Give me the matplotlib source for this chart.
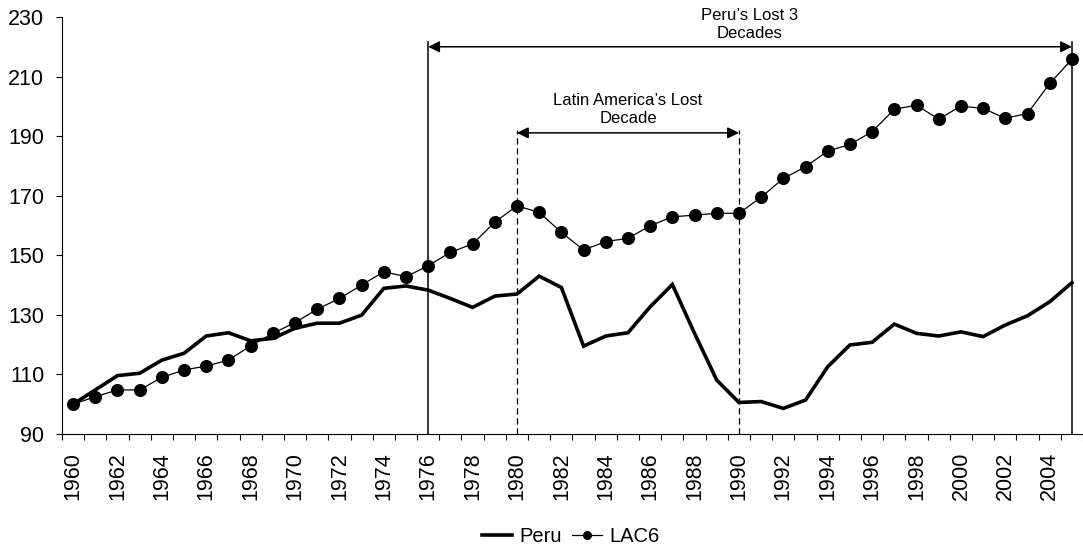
import numpy as np
import matplotlib
matplotlib.use('Agg')
import matplotlib.pyplot as plt
from matplotlib.ticker import FixedLocator

plt.rcParams['font.family'] = ['Liberation Sans', 'DejaVu Sans']

# Data (index, 1960 = 100)
years = list(range(1960, 2006))
peru = [100.0, 104.8, 109.6, 110.4, 114.8, 117.1, 122.9, 124.0, 121.3, 122.1,
        125.5, 127.2, 127.2, 129.9, 138.9, 139.7, 138.3, 135.5, 132.5, 136.3,
        137.0, 143.0, 139.2, 119.5, 122.9, 124.0, 132.7, 140.2, 123.8, 108.1,
        100.6, 100.9, 98.6, 101.4, 112.6, 119.9, 120.8, 126.9, 123.8, 122.9,
        124.3, 122.7, 126.6, 129.7, 134.4, 140.8]
lac6 = [100.0, 102.5, 104.8, 104.8, 109.0, 111.5, 112.8, 114.8, 119.6, 123.8,
        127.4, 131.9, 135.5, 140.0, 144.5, 142.8, 146.5, 151.0, 153.8, 161.1,
        166.6, 164.4, 157.7, 151.8, 154.6, 155.7, 159.9, 162.9, 163.5, 164.1,
        164.1, 169.5, 175.8, 179.7, 185.0, 187.2, 191.5, 199.0, 200.4, 195.7,
        200.1, 199.3, 196.0, 197.6, 207.7, 215.8]
yticks = [90, 110, 130, 150, 170, 190, 210, 230]

lost3 = (1976, 2005)
lost1 = (1980, 1990)
lost3_label = 'Peru\u2019s Lost 3\nDecades'
lost1_label = 'Latin America\u2019s Lost\nDecade'

x = np.arange(len(years))
def pos(yr):
    return years.index(yr)

fig = plt.figure(figsize=(10.83, 5.48), dpi=100)
ax = fig.add_axes([0.0572, 0.208, 0.9428, 0.761])

ax.plot(x, peru, color='black', lw=2.6, label='Peru', solid_joinstyle='miter')
ax.plot(x, lac6, color='black', lw=0.9, marker='o', ms=8.4, label='LAC6')

ax.set_xlim(-0.5, len(years) - 0.5)
ax.set_ylim(90, 230)
ax.yaxis.set_major_locator(FixedLocator(yticks))

ax.set_xticks(x[::2])
ax.set_xticklabels([str(y) for y in years[::2]], rotation=90)
ax.xaxis.set_minor_locator(FixedLocator(np.arange(-0.5, len(years), 1.0)))
ax.tick_params(axis='x', which='major', length=0, pad=13, labelsize=15.5)
ax.tick_params(axis='x', which='minor', length=4.3, width=0.8, direction='out')
ax.tick_params(axis='y', which='major', length=4.3, width=0.8, pad=8.5, labelsize=15.5)

for s in ['top', 'right']:
    ax.spines[s].set_visible(False)
for s in ['left', 'bottom']:
    ax.spines[s].set_linewidth(0.8)

# Peru's lost 3 decades
for yr in lost3:
    ax.plot([pos(yr), pos(yr)], [90, 221.7], color='black', lw=1.1, clip_on=False)
ax.annotate('', xy=(pos(lost3[0]), 220), xytext=(pos(lost3[1]), 220),
            arrowprops=dict(arrowstyle='<|-|>', color='black', lw=1.1,
                            mutation_scale=17, shrinkA=0, shrinkB=0),
            annotation_clip=False)
ax.text((pos(lost3[0]) + pos(lost3[1])) / 2, 227.4, lost3_label, ha='center', va='center',
        fontsize=12, linespacing=1.25, clip_on=False)

# Latin America's lost decade
for yr in lost1:
    ax.plot([pos(yr), pos(yr)], [90, 192], color='black', lw=0.9, ls=(0, (5, 3)))
ax.annotate('', xy=(pos(lost1[0]), 191.1), xytext=(pos(lost1[1]), 191.1),
            arrowprops=dict(arrowstyle='<|-|>', color='black', lw=1.1,
                            mutation_scale=17, shrinkA=0, shrinkB=0))
ax.text((pos(lost1[0]) + pos(lost1[1])) / 2, 198.8, lost1_label, ha='center', va='center',
        fontsize=12, linespacing=1.25)

fig.legend(loc='lower center', bbox_to_anchor=(0.527, -0.03), ncol=2, frameon=False,
           fontsize=14.5, handlelength=1.5, handletextpad=0.35, columnspacing=0.5,
           markerscale=0.65)

fig.savefig('out.png', dpi=100)
